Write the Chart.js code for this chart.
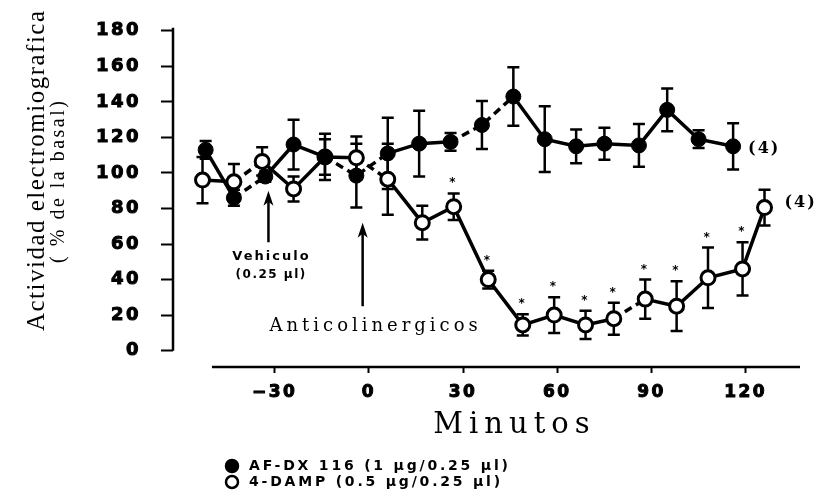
<!DOCTYPE html>
<html>
<head>
<meta charset="utf-8">
<script src="https://cdn.jsdelivr.net/npm/chart.js@4.4.1/dist/chart.umd.min.js"></script>
<style>
  html, body { margin: 0; padding: 0; background: #fff; }
</style>
</head>
<body>
<canvas id="emgChart" width="819" height="492"></canvas>
<script>
// values (minutes, % of basal, +/- error)
const afdxTime  = [-52, -43, -33, -24, -14, -4, 6, 16, 26, 36, 46, 56, 66, 75, 86, 95, 105, 116];
const afdxValue = [113, 86, 98, 116, 109, 98.5, 111, 116.5, 117.5, 127, 143, 119, 115, 116.5, 115.5, 135.5, 119, 115];
const afdxError = [5, 4.5, 3, 14, 13, 18, 20, 18.5, 5, 13.5, 16.5, 18.5, 9.5, 9, 12, 12, 5, 13];

const dampTime  = [-53, -43, -34, -24, -14, -4, 6, 17, 27, 38, 49, 59, 69, 78, 88, 98, 108, 119, 126];
const dampValue = [96, 95, 106.5, 91, 109, 108.5, 96.5, 72, 81, 40, 14.5, 20, 14.5, 18, 29, 25, 41, 46, 80.5];
const dampError = [13, 10, 8, 7, 10, 12, 20, 9.5, 7.5, 5, 6, 10, 8, 9, 11, 14, 17, 15, 10];
const dampSignificant = [8, 9, 10, 11, 12, 13, 14, 15, 16, 17]; // points marked with *

// segments (by start index) that are drawn dashed in the figure
const afdxDashed = [1, 4, 5, 8, 9];
const dampDashed = [1, 5, 13];

const seriesLabels = ['AF-DX 116 (1 \u00b5g/0.25 \u00b5l)', '4-DAMP (0.5 \u00b5g/0.25 \u00b5l)'];
const groupSize = '(4)';

const xTicks = [-30, 0, 30, 60, 90, 120];
const yTicks = [0, 20, 40, 60, 80, 100, 120, 140, 160, 180];

// annotations, in data units
const vehicleArrow = { t: -32, from: 61, to: 90 };
const vehicleText = ['Vehiculo', '(0.25 \u00b5l)'];
const drugArrow = { t: -2, from: 25, to: 72 };
const drugText = 'Anticolinergicos';

const BLACK = '#000';

function pointsOf(times, values) {
    return times.map((t, i) => ({ x: t, y: values[i] }));
}

function dashedAt(list) {
    return c => list.includes(c.p0DataIndex) ? [8, 5] : undefined;
}

function label(ctx, str, px, py, font, spacing, align) {
    align = align || 'center';
    ctx.font = font;
    ctx.letterSpacing = spacing + 'px';
    ctx.textAlign = align;
    ctx.textBaseline = 'middle';
    ctx.fillText(str, align === 'center' ? px + spacing / 2 : px, py);
}

function arrow(ctx, px, yFrom, yTo) {
    ctx.beginPath();
    ctx.moveTo(px, yFrom);
    ctx.lineTo(px, yTo + 10);
    ctx.stroke();
    ctx.beginPath();
    ctx.moveTo(px, yTo);
    ctx.lineTo(px - 5, yTo + 15);
    ctx.lineTo(px, yTo + 11);
    ctx.lineTo(px + 5, yTo + 15);
    ctx.closePath();
    ctx.fill();
}

const errorBars = {
    id: 'errorBars',
    beforeDraw(chart) {
        // wide-set lettering for the tick labels
        chart.ctx.letterSpacing = '2.5px';
    },
    beforeDatasetsDraw(chart) {
        const { ctx, scales: { x, y } } = chart;
        ctx.save();
        ctx.strokeStyle = BLACK;
        ctx.lineWidth = 2.5;
        chart.data.datasets.forEach(ds => {
            ds.data.forEach((p, i) => {
                const px = x.getPixelForValue(p.x);
                const top = y.getPixelForValue(p.y + ds.errors[i]);
                const bot = y.getPixelForValue(p.y - ds.errors[i]);
                ctx.beginPath();
                ctx.moveTo(px, top); ctx.lineTo(px, bot);
                ctx.moveTo(px - 6, top); ctx.lineTo(px + 6, top);
                ctx.moveTo(px - 6, bot); ctx.lineTo(px + 6, bot);
                ctx.stroke();
            });
        });
        ctx.restore();
    }
};

const notes = {
    id: 'notes',
    afterDraw(chart) {
        const { ctx, chartArea: area, scales: { x, y } } = chart;
        ctx.save();
        ctx.fillStyle = BLACK;
        ctx.strokeStyle = BLACK;

        // axis lines, drawn apart from each other as in the figure
        ctx.lineWidth = 2.5;
        ctx.beginPath();
        ctx.moveTo(area.left, y.getPixelForValue(yTicks[0]));
        ctx.lineTo(area.left, y.getPixelForValue(yTicks[yTicks.length - 1]) - 3);
        ctx.moveTo(x.getPixelForValue(-50), area.bottom);
        ctx.lineTo(area.right, area.bottom);
        ctx.stroke();

        // significance marks
        ctx.font = 'bold 12px "DejaVu Sans"';
        ctx.textAlign = 'center';
        ctx.textBaseline = 'alphabetic';
        dampSignificant.forEach(i => {
            const px = x.getPixelForValue(dampTime[i]);
            const py = y.getPixelForValue(dampValue[i] + dampError[i]) - 14;
            ctx.fillText('*', px, py + 7);
        });

        // group size next to the last point of each series
        chart.data.datasets.forEach(ds => {
            const last = ds.data[ds.data.length - 1];
            label(ctx, groupSize, x.getPixelForValue(last.x) + ds.endLabel.dx, y.getPixelForValue(last.y) + ds.endLabel.dy,
                'bold 16px "DejaVu Serif"', 2, 'left');
        });

        // arrows and their captions
        ctx.lineWidth = 2.5;
        const vx = x.getPixelForValue(vehicleArrow.t);
        arrow(ctx, vx, y.getPixelForValue(vehicleArrow.from), y.getPixelForValue(vehicleArrow.to));
        label(ctx, vehicleText[0], vx + 2, y.getPixelForValue(53), 'bold 13px "DejaVu Sans"', 2);
        label(ctx, vehicleText[1], vx + 2, y.getPixelForValue(42.5), 'bold 12px "DejaVu Sans"', 1.5);

        const dx = x.getPixelForValue(drugArrow.t);
        arrow(ctx, dx, y.getPixelForValue(drugArrow.from), y.getPixelForValue(drugArrow.to));
        label(ctx, drugText, x.getPixelForValue(1.5), y.getPixelForValue(13.5), '18px "DejaVu Serif"', 4);

        // axis titles
        label(ctx, 'Minutos', (area.left + area.right) / 2 + 25, 425, '29px "DejaVu Serif"', 6);
        ctx.save();
        ctx.translate(37, 171);
        ctx.rotate(-Math.PI / 2);
        label(ctx, 'Actividad electromiografica', 0, 0, '25px "Liberation Serif"', 1.5);
        ctx.restore();
        ctx.save();
        ctx.translate(59, 182);
        ctx.rotate(-Math.PI / 2);
        label(ctx, '( % de la basal)', 0, 0, '20px "Liberation Serif"', 2.5);
        ctx.restore();

        // legend, one row per series
        chart.data.datasets.forEach((ds, i) => {
            const ly = 466 + i * 16;
            ctx.beginPath();
            ctx.arc(232, ly, 6, 0, Math.PI * 2);
            ctx.fillStyle = ds.pointBackgroundColor;
            ctx.fill();
            ctx.lineWidth = 2.5;
            ctx.stroke();
            ctx.fillStyle = BLACK;
            label(ctx, ds.label, 249, ly, 'bold 14px "DejaVu Sans"', 2.8, 'left');
        });
        ctx.restore();
    }
};

new Chart(document.getElementById('emgChart'), {
    type: 'line',
    data: {
        datasets: [
            {
                label: seriesLabels[0],
                data: pointsOf(afdxTime, afdxValue),
                errors: afdxError,
                endLabel: { dx: 15, dy: 3 },
                borderColor: BLACK,
                borderWidth: 3.5,
                segment: { borderDash: dashedAt(afdxDashed) },
                pointRadius: 7.5,
                pointBackgroundColor: BLACK,
                pointBorderColor: BLACK,
                pointBorderWidth: 1
            },
            {
                label: seriesLabels[1],
                data: pointsOf(dampTime, dampValue),
                errors: dampError,
                endLabel: { dx: 20, dy: -5 },
                borderColor: BLACK,
                borderWidth: 3.5,
                segment: { borderDash: dashedAt(dampDashed) },
                pointRadius: 7,
                pointBackgroundColor: '#fff',
                pointBorderColor: BLACK,
                pointBorderWidth: 3
            }
        ]
    },
    options: {
        responsive: false,
        animation: false,
        devicePixelRatio: 1,
        layout: { padding: { left: 0, right: 19, top: 18, bottom: 0 } },
        plugins: {
            legend: { display: false },
            tooltip: { enabled: false }
        },
        scales: {
            x: {
                type: 'linear',
                min: -62.4,
                max: 137.3,
                border: { display: false },
                grid: { drawOnChartArea: false, tickLength: 6, tickWidth: 2, tickColor: BLACK },
                ticks: {
                    color: BLACK,
                    padding: 9,
                    autoSkip: false,
                    maxRotation: 0,
                    textStrokeColor: BLACK,
                    textStrokeWidth: 1,
                    font: { family: 'DejaVu Sans', size: 17, weight: 'bold' },
                    callback: v => String(v).replace('-', '\u2212')
                },
                afterBuildTicks: s => { s.ticks = xTicks.map(v => ({ value: v })); },
                afterFit: s => { s.height = 125; }
            },
            y: {
                min: -9.2,
                max: 180,
                border: { display: false },
                grid: { drawOnChartArea: false, tickLength: 12, tickWidth: 2, tickColor: BLACK },
                ticks: {
                    color: BLACK,
                    padding: 20,
                    autoSkip: false,
                    textStrokeColor: BLACK,
                    textStrokeWidth: 1,
                    font: { family: 'DejaVu Sans', size: 18, weight: 'bold' }
                },
                afterBuildTicks: s => { s.ticks = yTicks.map(v => ({ value: v })); },
                afterFit: s => { s.width = 173; }
            }
        }
    },
    plugins: [errorBars, notes]
});
</script>
</body>
</html>
